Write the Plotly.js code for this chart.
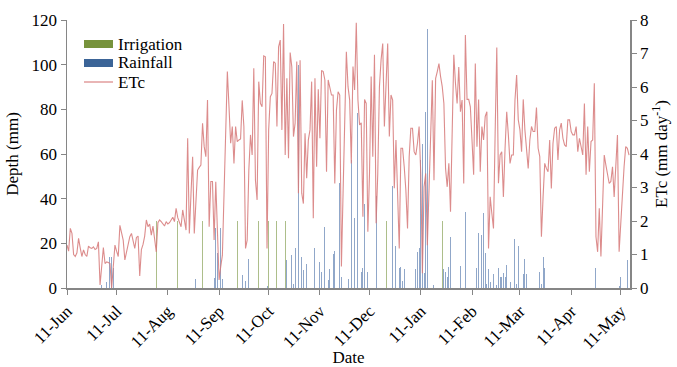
<!DOCTYPE html>
<html><head><meta charset="utf-8">
<script src="https://cdn.plot.ly/plotly-3.0.1.min.js"></script>
<style>html,body{margin:0;padding:0;background:#fff}#c{width:677px;height:367px}</style>
</head><body><div id="c"></div>
<script>
// Daily ETc (mm/day) starting 2011-06-11
const etcStart = '2011-06-11';
const etcValues = [
1.28,1.10,1.78,1.63,1.00,0.94,1.05,1.48,1.20,0.94,
1.14,1.00,0.94,1.25,1.20,1.18,1.23,1.15,1.18,1.38,
0.09,0.73,1.21,0.73,0.78,0.76,0.73,0.00,0.63,1.28,
1.10,0.94,1.87,1.60,1.43,0.84,1.10,1.33,1.53,1.63,
1.40,1.18,1.51,1.55,0.36,1.15,1.30,1.55,2.03,1.83,
1.91,1.58,1.85,1.50,1.08,1.95,2.03,1.98,1.91,1.85,
1.98,1.91,1.95,2.03,2.11,1.98,2.38,2.10,1.98,1.83,
2.33,2.00,1.73,4.47,1.63,2.80,3.92,1.63,2.82,3.52,
3.60,3.67,4.92,4.22,3.92,5.61,1.83,3.18,3.18,1.43,
3.17,1.43,0.24,0.64,0.98,2.82,5.00,6.46,5.41,4.32,
4.82,3.72,4.82,4.37,4.42,4.45,5.60,4.82,1.18,1.43,
3.52,4.57,3.97,6.56,3.22,2.63,6.16,5.51,5.41,6.93,
6.90,1.18,4.72,5.71,5.81,6.76,6.71,4.82,7.20,7.40,
4.72,7.88,3.97,6.26,3.87,7.03,6.60,4.52,4.92,6.76,
2.83,6.80,2.83,2.52,4.62,3.28,4.42,4.72,6.16,2.08,
6.26,3.62,5.93,4.47,6.49,6.46,6.21,3.47,6.21,5.96,
5.76,5.76,3.12,5.31,5.86,5.76,0.64,2.83,5.11,7.05,
6.01,5.61,3.72,6.61,5.91,7.92,5.61,4.87,4.93,2.13,
5.63,5.51,1.68,3.42,6.31,3.92,6.96,1.93,3.42,6.01,
6.81,7.30,4.82,5.91,7.30,4.52,5.76,5.61,2.98,4.42,
2.72,1.18,4.17,4.17,3.62,2.92,1.78,3.92,4.77,4.77,
4.07,3.97,4.32,4.82,3.42,0.44,3.02,3.42,1.28,3.02,
4.72,6.20,3.22,6.26,6.46,6.70,6.31,6.01,5.51,3.57,
3.02,3.72,2.28,4.62,6.96,6.11,5.51,6.60,5.26,5.61,
3.12,7.55,5.63,5.63,5.41,4.42,3.38,6.70,4.22,5.63,
3.47,4.82,4.42,5.12,5.26,1.18,2.72,2.23,1.78,4.62,
7.18,3.13,3.97,4.07,2.72,4.17,5.26,4.57,3.72,3.97,
3.97,5.61,6.36,5.02,4.72,4.07,5.63,4.72,4.17,3.57,
4.42,4.82,4.67,4.67,5.39,4.17,3.92,1.53,2.72,3.72,
3.57,3.47,4.42,2.97,4.32,4.77,4.82,3.82,4.72,4.92,
4.47,4.27,4.22,5.02,5.02,4.67,4.57,4.57,4.82,4.07,
4.47,4.22,3.97,5.51,3.38,4.82,3.47,4.37,4.42,6.11,
1.53,1.08,2.38,0.94,2.63,3.97,3.67,3.42,3.12,3.18,
3.62,2.72,3.77,4.57,1.08,2.03,3.02,3.62,4.22,4.17,
3.97
];

const rainDates = [
'2011-07-02','2011-07-05','2011-07-07','2011-07-08','2011-07-09','2011-08-28',
'2011-09-08','2011-09-09','2011-09-10','2011-09-12','2011-09-13','2011-09-25','2011-09-27','2011-09-29',
'2011-10-10','2011-10-22','2011-10-25','2011-10-26','2011-10-27','2011-10-29','2011-10-31',
'2011-11-01','2011-11-03','2011-11-05','2011-11-08','2011-11-11','2011-11-12','2011-11-14','2011-11-16',
'2011-11-17','2011-11-19','2011-11-20','2011-11-23','2011-11-24','2011-11-28','2011-11-30',
'2011-12-02','2011-12-04','2011-12-06','2011-12-07','2011-12-08','2011-12-10','2011-12-15','2011-12-25',
'2011-12-27','2011-12-29','2011-12-30','2011-12-31',
'2012-01-01','2012-01-08','2012-01-09','2012-01-10','2012-01-11','2012-01-12','2012-01-13','2012-01-14',
'2012-01-15','2012-01-19','2012-01-25','2012-01-26','2012-01-27','2012-01-28','2012-01-29',
'2012-02-04','2012-02-07','2012-02-11','2012-02-14','2012-02-15','2012-02-17','2012-02-18','2012-02-19',
'2012-02-20','2012-02-21','2012-02-22','2012-02-24','2012-02-26','2012-02-27','2012-02-28','2012-02-29',
'2012-03-01','2012-03-02','2012-03-03','2012-03-05','2012-03-08','2012-03-09','2012-03-10','2012-03-13',
'2012-03-14','2012-03-15','2012-03-23','2012-03-24','2012-03-25','2012-03-26',
'2012-04-26','2012-05-10','2012-05-11','2012-05-15'
];
const rainDepth = [
1.3,2.8,14,14,9,3.9,
4.3,26.7,15.5,26.7,4,5.8,3,12.8,
1,12.5,14.8,2,17.8,100,14,
8,10.7,8.8,17.8,11.8,7.3,27.5,3.6,
8.4,15.2,16.7,46.9,5,3.9,57.3,
31.2,78.2,7.3,8.8,37.6,7.3,41.2,45.7,
18.8,9,9.6,3,
8.4,8.4,16.3,17.8,57.3,64.5,6.6,79,
115.8,1.3,8.7,7.3,5,9.6,22.7,
9.9,34.2,12.1,8.8,24.5,23.7,33.4,15.5,
2,8.4,2.8,6.3,1.3,9.1,4.8,4.8,
6.6,4.8,10.3,2.8,21.8,1.6,18.8,6.3,
12.8,6.3,7.3,2,14,8.8,
8.8,1,4.8,12.5
];

const irrDates = ['2011-08-04','2011-08-17','2011-09-01','2011-09-22','2011-10-05','2011-10-11',
'2011-10-16','2011-10-21','2011-12-21','2012-01-24','2012-03-31'];
const irrDepth = [30,30,30,30,30,30,30,30,30,30,30];

const seriesNames = ['Irrigation','Rainfall','ETc'];
const tickLabelsFormat = '%d-%b';

// build ETc dates
const t0 = Date.parse(etcStart + 'T00:00:00Z');
const etcDates = etcValues.map((v,i)=> new Date(t0 + i*86400000).toISOString().slice(0,10));

const DAY = 86400000;
const serif = 'Liberation Serif, Times New Roman, serif';
const cIrr = '#77933c', cRain = '#3b6497', cEtc = 'rgba(214,120,120,0.85)';
const traces = [
  {type:'bar', x:irrDates, y:irrDepth, width:0.6*DAY, marker:{color:'rgba(119,147,60,0.6)', line:{width:0}},
   name:seriesNames[0], showlegend:false, hoverinfo:'skip'},
  {type:'bar', x:rainDates, y:rainDepth, width:0.6*DAY, marker:{color:'rgba(70,108,165,0.6)', line:{width:0}},
   name:seriesNames[1], showlegend:false, hoverinfo:'skip'},
  {type:'scatter', mode:'lines', x:etcDates, y:etcValues, yaxis:'y2', name:seriesNames[2], showlegend:false,
   line:{color:cEtc, width:1.1}}
];

// custom legend (paper coords)
const px = v => (v-67)/563, py = v => (288-v)/268;
const shapes = [
  {type:'rect', xref:'paper', yref:'paper', x0:px(84), x1:px(113), y0:py(48), y1:py(40), fillcolor:cIrr, line:{width:0}},
  {type:'rect', xref:'paper', yref:'paper', x0:px(84), x1:px(113), y0:py(67), y1:py(59), fillcolor:cRain, line:{width:0}},
  {type:'line', xref:'paper', yref:'paper', x0:px(84), x1:px(113), y0:py(82), y1:py(82), line:{color:cEtc, width:1.3}}
];
const annotations = [44,63,82].map((yy,i)=>({xref:'paper', yref:'paper', x:px(116), y:py(yy), xanchor:'left', yanchor:'middle',
  text:seriesNames[i], showarrow:false, font:{family:serif, size:17, color:'#000'}}));

const layout = {
  width:677, height:367,
  margin:{l:67, r:47, t:20, b:79},
  paper_bgcolor:'#fff', plot_bgcolor:'#fff',
  font:{family:serif, size:17, color:'#000'},
  barmode:'overlay', bargap:0,
  showlegend:false,
  shapes:shapes, annotations:annotations,
  xaxis:{type:'date', range:['2011-06-11','2012-05-16 14:00'], tick0:'2011-06-11', dtick:'M1',
         tickformat:tickLabelsFormat, tickangle:-45, ticks:'outside', ticklen:5, tickcolor:'#868686',
         showline:true, linecolor:'#868686', linewidth:1.5, showgrid:false, zeroline:false,
         tickfont:{family:serif, size:17},
         title:{text:'Date', font:{family:serif, size:17}, standoff:4}},
  yaxis:{range:[0,120], dtick:20, ticks:'outside', ticklen:5, tickcolor:'#868686',
         showline:true, linecolor:'#868686', linewidth:1.5, showgrid:false, zeroline:false,
         tickfont:{family:serif, size:17},
         title:{text:'Depth (mm)', font:{family:serif, size:17}, standoff:8}},
  yaxis2:{range:[0,8], dtick:1, overlaying:'y', side:'right', ticks:'outside', ticklen:5, tickcolor:'#868686',
         showline:true, linecolor:'#868686', linewidth:1.5, showgrid:false, zeroline:false,
         tickfont:{family:serif, size:17},
         title:{text:'ETc (mm day<sup>-1</sup>)', font:{family:serif, size:17}, standoff:6}}
};
Plotly.newPlot('c', traces, layout, {staticPlot:true, displayModeBar:false});
</script></body></html>
